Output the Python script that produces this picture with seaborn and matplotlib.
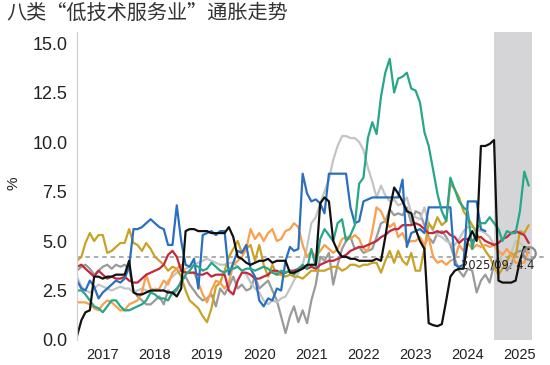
import numpy as np
import pandas as pd
import matplotlib
matplotlib.use("Agg")
import matplotlib.pyplot as plt
import matplotlib.dates as mdates
import seaborn as sns

title = "八类“低技术服务业”通胀走势"
start = "2017-01-01"

black = [0.2, 1.0, 1.4, 1.5, 3.2, 3.2, 3.1, 3.2, 3.2, 3.3, 3.3, 3.3,
         4.0, 2.4, 2.3, 2.3, 2.4, 2.5, 2.5, 2.5, 2.5, 2.4, 2.4, 2.2,
         2.6, 5.5, 5.6, 5.6, 5.5, 5.5, 5.5, 5.4, 5.4, 5.4, 5.4, 5.7,
         5.2, 4.2, 4.1, 3.9, 3.8, 3.9, 4.0, 4.0, 4.1, 3.9, 4.0, 4.0,
         4.0, 3.4, 3.4, 3.5, 3.6, 3.8, 3.8, 3.8, 6.9, 7.2, 7.0, 5.0,
         4.5, 4.2, 4.2, 4.1, 4.1, 4.0, 4.0, 4.0, 4.0, 4.1, 4.0, 5.2,
         6.6, 7.7, 7.4, 7.0, 6.5, 6.4, 5.6, 5.0, 4.6, 0.85, 0.75, 0.7,
         0.8, 2.0, 3.2, 3.5, 3.6, 3.6, 5.0, 5.5, 5.0, 9.8, 9.8, 9.9,
         10.1, 3.0, 2.9, 2.9, 2.9, 3.0, 4.0, 4.7, 4.6]

teal = [2.5, 2.5, 2.3, 2.0, 1.7, 1.6, 1.4, 1.7, 2.0, 2.0, 1.7, 1.5,
        1.5, 1.6, 1.7, 1.8, 2.0, 2.4, 2.3, 2.1, 2.1, 2.0, 2.4, 2.6,
        2.9, 3.3, 3.5, 3.8, 3.7, 3.5, 3.6, 3.9, 3.7, 3.5, 3.4, 3.6,
        3.6, 3.7, 3.5, 3.6, 3.6, 3.5, 3.6, 3.7, 3.6, 3.4, 3.3, 3.5,
        3.4, 3.5, 3.3, 3.6, 3.8, 3.6, 4.6, 3.7, 5.1, 5.6, 5.3, 5.0,
        5.9, 6.1, 5.0, 5.3, 5.8, 7.9, 8.2, 10.2, 11.0, 10.4, 12.3, 13.5,
        14.2, 12.5, 13.2, 13.3, 13.5, 12.7, 12.6, 12.0, 10.5, 9.8, 8.6, 7.4,
        6.5, 6.0, 8.2, 7.6, 7.0, 6.7, 6.5, 4.6, 5.6, 5.9, 5.9, 6.2,
        5.9, 5.6, 5.0, 5.5, 5.4, 5.4, 6.5, 8.5, 7.8]

blue = [3.0, 2.6, 2.5, 3.0, 2.7, 2.1, 2.4, 2.6, 2.8, 3.0, 2.9, 3.1,
        3.7, 5.6, 5.6, 5.7, 5.9, 6.1, 5.9, 5.7, 5.6, 4.8, 4.8, 6.8,
        5.0, 3.8, 3.7, 4.1, 2.6, 5.3, 5.4, 5.5, 5.3, 5.5, 5.5, 3.3,
        3.9, 4.5, 4.4, 4.8, 3.6, 3.2, 2.0, 1.7, 2.1, 2.0, 2.6, 2.5,
        4.0, 4.7, 4.5, 4.6, 8.4, 7.4, 7.0, 7.1, 6.9, 6.4, 8.4, 8.4,
        8.4, 8.4, 8.4, 6.7, 5.9, 6.0, 7.0, 7.1, 7.2, 7.2, 7.2, 7.2,
        7.2, 7.2, 7.2, 8.1, 4.7, 5.4, 5.5, 5.6, 5.4, 6.7, 6.7, 6.7,
        6.7, 6.7, 6.7, 3.8, 3.7, 3.8, 7.0, 7.0, 7.0, 5.6, 5.5]

gold = [4.0, 4.2, 4.9, 5.4, 5.0, 5.3, 5.3, 4.4, 4.5, 4.7, 4.9, 4.9,
        5.6, 4.9, 4.8, 4.5, 4.9, 4.6, 4.2, 4.0, 3.8, 3.5, 3.7, 3.6,
        3.2, 2.5, 2.0, 1.8, 1.6, 1.2, 0.9, 1.6, 2.7, 2.9, 3.5, 4.2,
        4.6, 5.0, 4.4, 4.6, 4.8, 4.0, 4.8, 3.8, 3.2, 3.8, 3.3, 3.3,
        3.2, 3.3, 3.2, 3.2, 3.1, 3.3, 3.5, 3.5, 3.5, 3.5, 3.6, 3.7,
        3.7, 3.5, 3.6, 3.8, 3.8, 3.7, 3.8, 3.8, 3.9, 3.9, 3.4, 4.0,
        4.5, 3.9, 4.5, 4.0, 3.8, 4.4, 3.5, 3.5, 4.6, 5.9, 5.6, 6.2,
        5.8, 6.0, 7.9, 7.6, 7.2, 6.5, 6.2, 5.8, 5.4, 4.9, 4.5, 4.2,
        3.7, 3.3, 3.6, 4.0, 4.4, 4.2, 5.5, 5.4, 5.8]

red = [3.7, 3.8, 3.6, 3.4, 3.2, 3.5, 3.3, 3.1, 3.2, 3.1, 3.1, 3.2,
       3.0, 2.9, 2.9, 3.1, 3.3, 3.4, 3.5, 3.6, 3.8, 4.3, 4.5, 4.2,
       3.5, 3.4, 3.4, 3.4, 3.3, 3.3, 3.4, 3.2, 3.3, 3.3, 3.3, 2.5,
       2.3, 3.0, 3.4, 3.4, 3.3, 3.1, 3.1, 3.2, 3.3, 3.5, 3.5, 3.4,
       3.4, 3.5, 3.5, 3.6, 3.7, 3.6, 3.7, 3.6, 3.8, 3.9, 4.0, 4.0,
       4.1, 4.2, 4.3, 4.5, 4.6, 4.7, 4.7, 4.8, 4.9, 5.0, 5.2, 5.3,
       5.5, 5.6, 5.6, 5.8, 5.8, 5.8, 5.9, 5.8, 5.6, 5.4, 5.4, 5.5,
       5.4, 5.5, 5.3, 5.2, 4.9, 5.1, 5.1, 5.0, 5.2, 5.2, 5.0, 4.9,
       4.8, 4.9, 5.1, 5.2, 5.4, 5.5, 5.4, 5.3, 4.9]

orange = [1.9, 1.9, 1.9, 1.8, 1.6, 1.5, 1.8, 2.0, 1.9, 1.7, 1.5, 1.5,
          1.8, 1.9, 2.0, 2.4, 3.3, 2.6, 2.5, 2.6, 3.0, 2.8, 3.4, 3.6,
          3.8, 3.4, 3.4, 3.4, 2.9, 2.3, 1.9, 2.5, 3.0, 2.9, 2.6, 2.9,
          3.8, 4.0, 4.2, 4.6, 5.6, 5.1, 5.4, 5.0, 5.4, 5.6, 5.0, 5.1,
          5.5, 5.6, 5.9, 5.7, 4.8, 4.2, 4.5, 4.2, 4.5, 4.8, 4.6, 4.4,
          4.6, 5.1, 5.2, 5.1, 5.3, 5.1, 4.6, 4.5, 5.5, 6.7, 6.5, 6.0,
          5.7, 5.9, 5.2, 5.4, 4.9, 5.0, 5.0, 5.2, 4.8, 5.2, 4.2, 3.9,
          4.0, 3.8, 4.0, 4.1, 4.8, 4.5, 4.9, 4.6, 4.8, 4.7, 4.8, 4.7,
          4.8, 4.5, 4.3, 4.6, 4.3, 3.9, 3.9, 3.9, 4.6]

lightgray = [3.2, 2.7, 2.5, 2.4, 2.6, 2.8, 2.7, 2.6, 2.5, 2.6, 2.7, 2.6,
             2.6, 2.4, 2.5, 2.6, 2.5, 2.4, 2.6, 2.5, 2.5, 3.0, 3.2, 3.4,
             3.5, 3.6, 3.7, 3.8, 3.9, 4.0, 4.1, 4.0, 3.9, 3.8, 3.8, 3.9,
             3.9, 3.7, 3.5, 3.3, 2.9, 2.6, 2.4, 2.0, 1.8, 2.0, 1.9, 2.1,
             2.2, 2.6, 3.0, 3.4, 3.8, 4.7, 5.9, 6.2, 6.9, 7.5, 8.1, 9.1,
             9.8, 10.3, 10.3, 10.2, 10.2, 10.0, 9.6, 8.7, 8.0, 7.2, 7.8, 7.3,
             7.0, 7.1, 6.8, 6.9, 7.2, 6.4, 6.2, 6.1, 6.7, 5.9, 5.5, 5.3,
             5.2, 5.0, 4.9, 4.8, 5.1, 5.5, 5.7, 5.7, 5.6, 5.5, 5.4, 5.2,
             4.8, 4.3, 4.0, 3.8, 4.4, 5.0, 4.9, 4.7, 4.5]

darkgray = [3.5, 3.7, 3.8, 3.6, 3.3, 3.5, 3.7, 3.8, 3.6, 3.8, 3.7, 3.8,
            3.6, 2.5, 2.2, 2.0, 1.8, 1.8, 2.0, 2.2, 1.8, 2.5, 2.3, 2.5,
            3.0, 3.2, 2.8, 2.5, 2.2, 2.0, 2.1, 2.3, 1.7, 2.6, 2.3, 2.7,
            3.2, 2.6, 2.8, 2.5, 2.6, 3.2, 2.6, 2.8, 3.0, 2.5, 2.0, 1.2,
            0.35, 1.2, 1.7, 0.9, 1.5, 0.85, 2.0, 2.8, 4.2, 4.0, 4.4, 2.8,
            3.8, 4.6, 5.0, 5.2, 4.6, 4.7, 4.4, 4.5, 4.6, 5.2, 5.9, 6.0,
            6.6, 6.3, 6.4, 6.3, 6.7, 5.9, 6.5, 6.4, 5.8, 5.2, 4.9, 5.4,
            5.5, 5.2, 4.8, 4.1, 3.5, 3.2, 3.6, 3.5, 2.4, 3.0, 3.3, 2.9,
            3.8, 4.2, 4.0, 3.5, 3.8, 4.4, 4.5, 4.5, 4.4]

series = {
    "darkgray": darkgray,
    "lightgray": lightgray,
    "gold": gold,
    "orange": orange,
    "red": red,
    "blue": blue,
    "teal": teal,
    "black": black,
}
palette = {
    "darkgray": "#9a9a9a",
    "lightgray": "#c4c4c4",
    "gold": "#c9a227",
    "orange": "#fa9f4c",
    "red": "#c3283f",
    "blue": "#2a6fc0",
    "teal": "#27a689",
    "black": "#111111",
}

frames = []
for name, vals in series.items():
    d = pd.date_range(start, periods=len(vals), freq="MS")
    frames.append(pd.DataFrame({"date": d, "value": vals, "series": name}))
df = pd.concat(frames, ignore_index=True)

sns.set_style("white")
plt.rcParams["font.family"] = ["Liberation Sans", "Noto Sans CJK SC", "DejaVu Sans"]

fig = plt.figure(figsize=(5.5, 3.65), dpi=100)
ax = fig.add_axes([0.14, 0.0685, 0.853, 0.8435])

ax.axvspan(pd.Timestamp("2025-01-01"), pd.Timestamp("2025-09-25"), color="#d5d5d8", lw=0, zorder=0)
ax.axhline(4.2, color="#999999", ls=(0, (3, 2.5)), lw=1.1, zorder=1)

sns.lineplot(data=df, x="date", y="value", hue="series", palette=palette,
             hue_order=list(series.keys()), estimator=None, legend=False,
             lw=1.6, ax=ax)

last_date = pd.Timestamp("2025-09-01")
ax.plot([last_date], [4.4], marker="o", ms=9, mfc="none", mec="#8c8c8c", mew=1.6, zorder=5)
ax.annotate("2025/09: 4.4", xy=(last_date, 4.4), xytext=(6, -12),
            textcoords="offset pixels", ha="right", va="center",
            fontsize=8.3, color="#222222", family=["DejaVu Sans"], zorder=6)

ax.set_xlim(pd.Timestamp("2017-01-01"), pd.Timestamp("2026-01-01"))
ax.set_ylim(0, 15.55)
ax.set_yticks(np.arange(0, 15.01, 2.5))
ax.set_yticklabels([f"{v:.1f}" for v in np.arange(0, 15.01, 2.5)])

ax.xaxis.set_major_locator(mdates.YearLocator())
ax.xaxis.set_major_formatter(plt.NullFormatter())
ax.xaxis.set_minor_locator(mdates.MonthLocator(bymonth=7))
ax.xaxis.set_minor_formatter(mdates.DateFormatter("%Y"))
ax.tick_params(axis="x", which="major", length=4, color="#bbbbbb", width=0.8)
ax.tick_params(axis="x", which="minor", length=0, labelsize=10.5, pad=6, labelcolor="#222222")
ax.tick_params(axis="y", length=3, color="#bbbbbb", width=0.8, labelsize=13, labelcolor="#222222", pad=4)

ax.set_xlabel("")
ax.set_ylabel("%", fontsize=11, color="#222222")
ax.yaxis.set_label_coords(-0.12, 0.51)
for s in ["top", "right", "bottom"]:
    ax.spines[s].set_visible(False)
ax.spines["left"].set_color("#d0d0d0")
ax.spines["left"].set_linewidth(0.9)

fig.text(0.012, 0.962, title, fontsize=14.5, color="#333333",
         family=["Noto Sans CJK SC", "DejaVu Sans"], ha="left", va="center")

fig.savefig("out.png", dpi=100)
